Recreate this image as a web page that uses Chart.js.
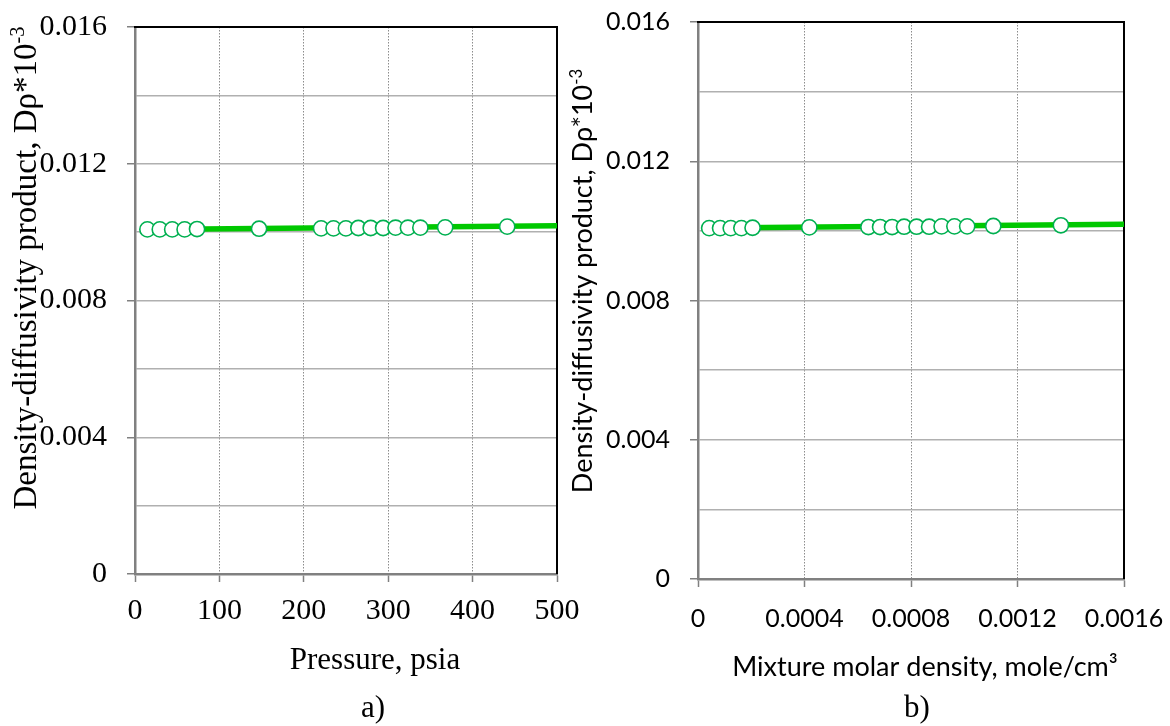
<!DOCTYPE html>
<html>
<head>
<meta charset="utf-8">
<script src="https://cdn.jsdelivr.net/npm/chart.js@4.4.1/dist/chart.umd.min.js"></script>
<style>
  html, body { margin: 0; padding: 0; background: #fff; }
  #wrap { position: relative; width: 1170px; height: 726px; overflow: hidden; }
  canvas { position: absolute; top: 0; }
  #chartA { left: 0; }
  #chartB { left: 560px; }
</style>
</head>
<body>
<div id="wrap">
  <canvas id="chartA" width="585" height="726"></canvas>
  <canvas id="chartB" width="610" height="726"></canvas>
</div>
<script>
// measured runs: pressure (psia) and the matching mixture molar density (mole/cm3)
const pressure = [14.7, 29.4, 44.1, 58.8, 73.5, 147, 220.5, 235.2, 249.9, 264.6, 279.3, 294, 308.7, 323.4, 338.1, 367.5, 441];
const molarDensity = [0.000042, 0.000083, 0.000123, 0.000163, 0.000205, 0.000418, 0.00064, 0.000684, 0.000729, 0.000774, 0.000821, 0.000868, 0.000915, 0.000963, 0.001011, 0.001109, 0.001363];
// density-diffusivity product at each run
const dRho = [0.01008, 0.01008, 0.01008, 0.01008, 0.01009, 0.0101, 0.01011, 0.01011, 0.01011, 0.01012, 0.01012, 0.01012, 0.01013, 0.01013, 0.01013, 0.01014, 0.01016];

// fitted line end points
const fitPressure = [14.7, 500];
const fitDensity = [0.000042, 0.0016];
const fitDRho = [0.01008, 0.01019];

// axis ticks
const dRhoTicks = [0, 0.004, 0.008, 0.012, 0.016];
const dRhoTickLabels = ["0", "0.004", "0.008", "0.012", "0.016"];
const pressureTicks = [0, 100, 200, 300, 400, 500];
const pressureTickLabels = ["0", "100", "200", "300", "400", "500"];
const densityTicks = [0, 0.0004, 0.0008, 0.0012, 0.0016];
const densityTickLabels = ["0", "0.0004", "0.0008", "0.0012", "0.0016"];

const SERIF = "'Liberation Serif', 'Times New Roman', serif";
const SANS = "Lato, 'Open Sans', sans-serif";

function labelFor(v, values, labels) {
  const i = values.findIndex(t => Math.abs(t - v) < 1e-9);
  return i < 0 ? "" : labels[i];
}

// black top and right edges of the plot box
const frame = {
  id: "frame",
  beforeDatasetsDraw(chart) {
    const { ctx, chartArea: a } = chart;
    ctx.save();
    ctx.strokeStyle = "#000";
    ctx.lineWidth = 2;
    ctx.beginPath();
    ctx.moveTo(a.left - 1, a.top);
    ctx.lineTo(a.right, a.top);
    ctx.lineTo(a.right, a.bottom);
    ctx.stroke();
    ctx.restore();
  }
};

// axis titles and panel letters, with optional superscript pieces
const captions = {
  id: "captions",
  afterDraw(chart, args, opts) {
    const ctx = chart.ctx;
    opts.items.forEach(item => {
      ctx.save();
      ctx.translate(item.x, item.y);
      ctx.rotate(item.angle || 0);
      ctx.fillStyle = "#000";
      ctx.textBaseline = "alphabetic";
      ctx.textAlign = "left";
      const pieces = item.parts.map(p => {
        const size = p.sup ? item.size * 0.62 : item.size;
        ctx.font = size + "px " + item.family;
        return { text: p.text, sup: p.sup, size, w: ctx.measureText(p.text).width };
      });
      let x = -pieces.reduce((s, p) => s + p.w, 0) / 2;
      pieces.forEach(p => {
        ctx.font = p.size + "px " + item.family;
        ctx.fillText(p.text, x, p.sup ? -item.size * 0.36 : 0);
        x += p.w;
      });
      ctx.restore();
    });
  }
};

function makeChart(id, cfg) {
  return new Chart(document.getElementById(id), {
    type: "scatter",
    data: {
      datasets: [
        {
          data: cfg.xs.map((x, i) => ({ x, y: dRho[i] })),
          order: 0,
          showLine: false,
          pointRadius: 7.6,
          pointBorderWidth: 1.6,
          pointBorderColor: "#00b050",
          pointBackgroundColor: "#ffffff"
        },
        {
          data: cfg.fitX.map((x, i) => ({ x, y: fitDRho[i] })),
          order: 1,
          showLine: true,
          pointRadius: 0,
          borderColor: "#00c800",
          borderWidth: 5.5
        }
      ]
    },
    options: {
      responsive: false,
      animation: false,
      events: [],
      layout: { padding: cfg.padding },
      plugins: {
        legend: { display: false },
        tooltip: { enabled: false },
        captions: { items: cfg.captions }
      },
      scales: {
        x: {
          type: "linear",
          min: 0,
          max: cfg.xTicks[cfg.xTicks.length - 1],
          afterFit: s => {
            s.height = cfg.xHeight;
            s.paddingLeft = 0;
            s.paddingRight = 0;
          },
          ticks: {
            stepSize: cfg.xTicks[1],
            autoSkip: false,
            maxRotation: 0,
            padding: cfg.xTickPad,
            color: "#000",
            font: cfg.tickFont,
            callback: v => labelFor(v, cfg.xTicks, cfg.xLabels)
          },
          grid: {
            color: "#8c8c8c",
            lineWidth: 1,
            tickLength: 8,
            tickWidth: 1.5,
            tickColor: "#808080",
            tickBorderDash: []
          },
          border: { color: "#808080", width: 2.5, dash: [1.5, 1.5] }
        },
        y: {
          min: 0,
          max: 0.016,
          afterFit: s => {
            s.width = cfg.yWidth;
            s.paddingTop = 0;
            s.paddingBottom = 0;
          },
          ticks: {
            stepSize: 0.002,
            padding: 20,
            color: "#000",
            font: cfg.tickFont,
            callback: v => labelFor(v, dRhoTicks, dRhoTickLabels)
          },
          grid: {
            color: "#b0b0b0",
            lineWidth: 1.5,
            tickLength: 8,
            tickWidth: 1.5,
            tickColor: c => (c.tick && labelFor(c.tick.value, dRhoTicks, dRhoTickLabels) !== "") ? "#808080" : "rgba(0,0,0,0)"
          },
          border: { color: "#808080", width: 2.5 }
        }
      }
    },
    plugins: [frame, captions]
  });
}

// a) against pressure
makeChart("chartA", {
  xs: pressure,
  fitX: fitPressure,
  xTicks: pressureTicks,
  xLabels: pressureTickLabels,
  padding: { top: 27, right: 28, bottom: 30, left: 0 },
  yWidth: 135,
  xHeight: 122,
  xTickPad: 11,
  tickFont: { family: SERIF, size: 30, lineHeight: 1.2 },
  captions: [
    { parts: [{ text: "Density-diffusivity product, D\u03c1*10" }, { text: "-3", sup: true }],
      x: 36, y: 268, angle: -Math.PI / 2, size: 33, family: SERIF },
    { parts: [{ text: "Pressure, psia" }], x: 375, y: 669, size: 31, family: SERIF },
    { parts: [{ text: "a)" }], x: 373, y: 717, size: 31, family: SERIF }
  ]
});

// b) against mixture molar density
makeChart("chartB", {
  xs: molarDensity,
  fitX: fitDensity,
  xTicks: densityTicks,
  xLabels: densityTickLabels,
  padding: { top: 22, right: 46, bottom: 30, left: 0 },
  yWidth: 138,
  xHeight: 117,
  xTickPad: 17,
  tickFont: { family: SANS, size: 25, lineHeight: 1.2 },
  captions: [
    { parts: [{ text: "Density-diffusivity product, D\u03c1*10" }, { text: "-3", sup: true }],
      x: 32, y: 281, angle: -Math.PI / 2, size: 27, family: SANS },
    { parts: [{ text: "Mixture molar density, mole/cm\u00b3" }], x: 365, y: 676, size: 27, family: SANS },
    { parts: [{ text: "b)" }], x: 357, y: 717, size: 31, family: SERIF }
  ]
});
</script>
</body>
</html>
